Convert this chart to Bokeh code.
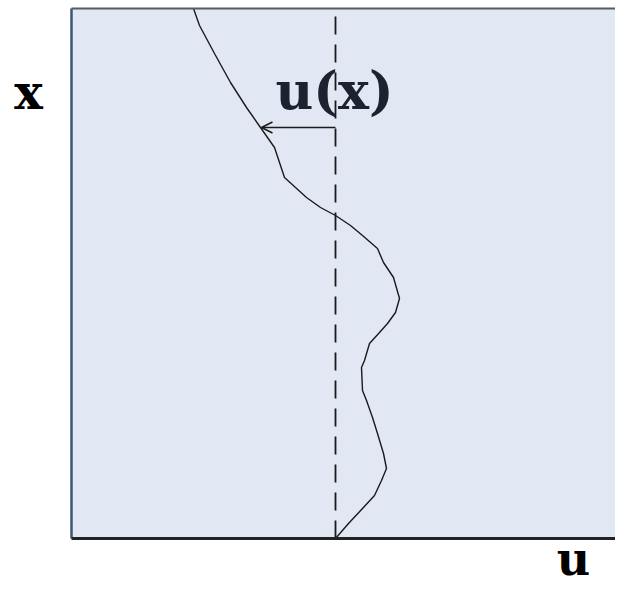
from bokeh.plotting import figure
from bokeh.models import Range1d, Arrow, OpenHead, Label
from bokeh.embed import file_html
from bokeh.resources import INLINE

# profile u(x): u relative to the dashed reference line, x measured upward
u_vals = [-1.42, -1.36, -1.21, -1.05, -0.89, -0.75, -0.61, -0.51, -0.29, -0.15,
          0.00, 0.15, 0.27, 0.42, 0.48, 0.58, 0.64, 0.60, 0.52, 0.44,
          0.34, 0.29, 0.26, 0.27, 0.31, 0.37, 0.42, 0.48, 0.51, 0.46,
          0.39, 0.27, 0.13, 0.00]
x_vals = [5.30, 5.13, 4.85, 4.56, 4.31, 4.11, 3.91, 3.61, 3.41, 3.31,
          3.23, 3.13, 3.03, 2.90, 2.76, 2.61, 2.40, 2.26, 2.15, 2.06,
          1.95, 1.78, 1.71, 1.48, 1.38, 1.21, 1.05, 0.85, 0.70, 0.58,
          0.43, 0.30, 0.15, 0.00]

box_u = [-2.64, 2.88]      # extent of the shaded box along u
box_x = [0.0, 5.30]        # extent of the shaded box along x
ref_u = 0.0
arrow_x = 4.11
arrow_end_u = -0.74

bg = "#E1E7F3"
font = "DejaVu Serif"

W, H = 615, 591
p = figure(width=W, height=H, output_backend="svg", toolbar_location=None,
           x_range=Range1d(-3.35, -3.35 + W / 100), y_range=Range1d(5.38 - H / 100, 5.38),
           x_axis_location=None, y_axis_location=None,
           min_border_left=0, min_border_right=0, min_border_top=0, min_border_bottom=0)
p.background_fill_color = "white"
p.border_fill_color = "white"
p.outline_line_color = None
p.grid.visible = False

# shaded box
p.quad(left=[box_u[0]], right=[box_u[1]], bottom=[box_x[0]], top=[box_x[1]],
       fill_color=bg, line_color=None)

# dashed reference line
p.line([ref_u, ref_u], box_x, line_color="#1a1a1a", line_width=1.8, line_dash="18 10")

# profile
p.line(u_vals, x_vals, line_color="#1a1a1a", line_width=1.4)

# arrow
p.add_layout(Arrow(x_start=ref_u, y_start=arrow_x, x_end=arrow_end_u, y_end=arrow_x,
                   line_color="#1a1a1a", line_width=1.4,
                   end=OpenHead(size=11, line_color="#1a1a1a", line_width=1.6)))

# box borders
p.line([box_u[0], box_u[0]], box_x, line_color="#3f5577", line_width=2.5)
p.line(box_u, [box_x[1], box_x[1]], line_color="#555b63", line_width=2)
p.line(box_u, [box_x[0], box_x[0]], line_color="#222222", line_width=3)

# labels
p.add_layout(Label(x=-0.01, y=4.48, text="u(x)", text_font=font, text_font_style="bold",
                   text_font_size="52px", text_align="center", text_baseline="alphabetic",
                   text_color="#1c2230"))
p.add_layout(Label(x=-3.07, y=4.47, text="x", text_font=font, text_font_style="bold",
                   text_font_size="48px", text_align="center", text_baseline="alphabetic",
                   text_color="black"))
p.add_layout(Label(x=2.38, y=-0.20, text="u", text_font=font, text_font_style="bold",
                   text_font_size="46px", text_align="center", text_baseline="alphabetic",
                   text_color="black"))

open("out.html", "w").write(file_html(p, INLINE))
